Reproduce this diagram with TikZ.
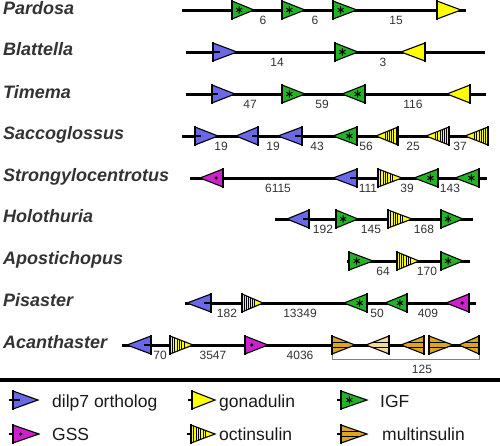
\documentclass[tikz,border=0pt]{standalone}
\usepackage{fontspec}
\setmainfont{Liberation Sans}
\definecolor{cblue}{RGB}{105,105,232}
\definecolor{cgreen}{RGB}{34,180,34}
\definecolor{cyellow}{RGB}{255,255,0}
\definecolor{cmag}{RGB}{204,34,204}
\definecolor{cgold}{RGB}{218,165,32}
\definecolor{clgold}{RGB}{245,215,160}
\newcommand\trishape[4]{\filldraw[fill=#4,draw=black,line width=1.1pt,line join=miter] (#1,#3-9) -- (#2,#3) -- (#1,#3+9) -- cycle;}
\newcommand\tribase[2]{\draw[line width=2.8pt] (#1,#2-9.8) -- (#1,#2+9.8);}
\newcommand\dilp[3]{\trishape{#1}{#2}{#3}{cblue}\draw[line width=2.2pt] (#1,#3) -- ({#1+0.28*(#2-#1)},#3);\tribase{#1}{#3}}
\newcommand\gona[3]{\trishape{#1}{#2}{#3}{cyellow}\tribase{#1}{#3}}
\newcommand\igf[3]{\trishape{#1}{#2}{#3}{cgreen}\draw[line width=1pt,shift={({#1+0.32*(#2-#1)},#3)}] (0,-3.6)--(0,3.6) (-3.1,-1.8)--(3.1,1.8) (-3.1,1.8)--(3.1,-1.8);\tribase{#1}{#3}}
\newcommand\gss[3]{\trishape{#1}{#2}{#3}{cmag}\fill ({#1+0.3*(#2-#1)},#3) circle[radius=1.8pt];\tribase{#1}{#3}}
\newcommand\octi[3]{\trishape{#1}{#2}{#3}{cyellow}\begin{scope}\clip (#1,#3-9) -- (#2,#3) -- (#1,#3+9) -- cycle;\foreach \k in {1,...,6}{\draw[line width=0.6pt] ({#1+\k*0.1*(#2-#1)},#3-9) -- ({#1+\k*0.1*(#2-#1)},#3+9);}\end{scope}\tribase{#1}{#3}}
\newcommand\multi[4]{\trishape{#1}{#2}{#3}{#4}\begin{scope}\clip (#1,#3-9) -- (#2,#3) -- (#1,#3+9) -- cycle;\draw[line width=0.7pt] (#1,#3-2.5) -- (#2,#3-2.5) (#1,#3+2.5) -- (#2,#3+2.5);\end{scope}\tribase{#1}{#3}}
\tikzset{
  gline/.style={line width=3pt},
  sp/.style={anchor=base west,inner sep=0pt,text=black!80,font=\fontsize{18}{20}\selectfont\bfseries\itshape},
  num/.style={anchor=base,inner sep=0pt,text=black!80,font=\fontsize{12}{14}\selectfont},
  leg/.style={anchor=base west,inner sep=0pt,text=black!90,font=\fontsize{17.5}{20}\selectfont},
  stub/.style={line width=2.2pt}
}
\begin{document}
\begin{tikzpicture}[x=1pt,y=-1pt]
\useasboundingbox (0,0) rectangle (500,445);
% species labels
\node[sp] (l1) at (3,14) {Pardosa};
\node[sp] (l2) at (3,55) {Blattella};
\node[sp] (l3) at (3,98) {Timema};
\node[sp] (l4) at (3,139) {Saccoglossus};
\node[sp] (l5) at (3,181) {Strongylocentrotus};
\node[sp] (l6) at (3,222) {Holothuria};
\node[sp] (l7) at (3,264) {Apostichopus};
\node[sp] (l8) at (3,306) {Pisaster};
\node[sp] (l9) at (3,348) {Acanthaster};
% Pardosa
\draw[gline] (182,10) -- (466,10);
\igf{232}{254}{10}\igf{282}{305}{10}\igf{333}{357}{10}\gona{437}{461}{10}
\node[num] (n11) at (263,24) {6};
\node[num] (n12) at (315,24) {6};
\node[num] (n13) at (396,24) {15};
% Blattella
\draw[gline] (186,52) -- (485,52);
\dilp{213}{237}{52}\igf{335}{358}{52}\gona{425}{401}{52}
\node[num] (n21) at (277,66) {14};
\node[num] (n22) at (383,66) {3};
% Timema
\draw[gline] (186,94) -- (486,94);
\dilp{212}{235}{94}\igf{282}{305}{94}\igf{365}{342}{94}\gona{470}{447}{94}
\node[num] (n31) at (250,108) {47};
\node[num] (n32) at (322,108) {59};
\node[num] (n33) at (413,108) {116};
% Saccoglossus
\draw[gline] (182,136) -- (488,136);
\dilp{195}{218}{136}\dilp{258}{236}{136}\dilp{302}{278}{136}\igf{357}{333}{136}
\octi{398}{376}{136}\octi{449}{426}{136}\octi{488}{465}{136}
\node[num] (n41) at (221,150) {19};
\node[num] (n42) at (273,150) {19};
\node[num] (n43) at (317,150) {43};
\node[num] (n44) at (366,150) {56};
\node[num] (n45) at (413,150) {25};
\node[num] (n46) at (460,150) {37};
% Strongylocentrotus
\draw[gline] (190,178) -- (487,178);
\gss{223}{200}{178}\dilp{357}{333}{178}\octi{378}{402}{178}\igf{438}{414}{178}\igf{479}{455}{178}
\node[num] (n51) at (278,192) {6115};
\node[num] (n52) at (368,192) {111};
\node[num] (n53) at (407,192) {39};
\node[num] (n54) at (450,192) {143};
% Holothuria
\draw[gline] (275,219) -- (473,219);
\dilp{309}{287}{219}\igf{336}{358}{219}\octi{388}{412}{219}\igf{441}{463}{219}
\node[num] (n61) at (323,233) {192};
\node[num] (n62) at (371,233) {145};
\node[num] (n63) at (424,233) {168};
% Apostichopus
\draw[gline] (347,261) -- (470,261);
\igf{349}{373}{261}\octi{397}{419}{261}\igf{441}{463}{261}
\node[num] (n71) at (383,275) {64};
\node[num] (n72) at (427,275) {170};
% Pisaster
\draw[gline] (185,303) -- (476,303);
\dilp{211}{187}{303}\octi{242}{263}{303}\igf{367}{344}{303}\igf{407}{385}{303}\gss{469}{446}{303}
\node[num] (n81) at (227,317) {182};
\node[num] (n82) at (300,317) {13349};
\node[num] (n83) at (377,317) {50};
\node[num] (n84) at (428,317) {409};
% Acanthaster
\draw[gline] (122,345) -- (424,345);
\draw[gline] (429,345) -- (479,345);
\dilp{151}{127}{345}\octi{170}{193}{345}\gss{245}{268}{345}
\multi{332}{355}{345}{cgold}\multi{389}{366}{345}{clgold}\multi{424}{401}{345}{cgold}
\multi{429}{453}{345}{cgold}\multi{479}{459}{345}{cgold}
\node[num] (n91) at (160,359) {70};
\node[num] (n92) at (213,359) {3547};
\node[num] (n93) at (300,359) {4036};
\coordinate (bl) at (332,355);
\coordinate (br) at (479,355);
\draw[black!50,line width=1pt] (bl) -- ++(0,4) -| (br);
\node[num] (n94) at (422,373) {125};
% legend
\draw[line width=4pt] (0,380) -- (500,380);
\draw[stub] (9,400) -- (13,400); \dilp{13}{38}{400}
\node[leg] (t1) at (52,407) {dilp7 ortholog};
\draw[stub] (188,400) -- (192,400); \gona{192}{215}{400}
\node[leg] (t2) at (219,407) {gonadulin};
\draw[stub] (337,400) -- (341,400); \igf{341}{367}{400}
\node[leg] (t3) at (380,407) {IGF};
\draw[stub] (9,434) -- (13,434); \gss{13}{39}{434}
\node[leg] (t4) at (52,440) {GSS};
\draw[stub] (187,434) -- (191,434); \octi{191}{215}{434}
\node[leg] (t5) at (219,440) {octinsulin};
\draw[stub] (337,434) -- (341,434); \multi{341}{367}{434}{cgold}
\node[leg] (t6) at (382,440) {multinsulin};
\end{tikzpicture}
\end{document}
